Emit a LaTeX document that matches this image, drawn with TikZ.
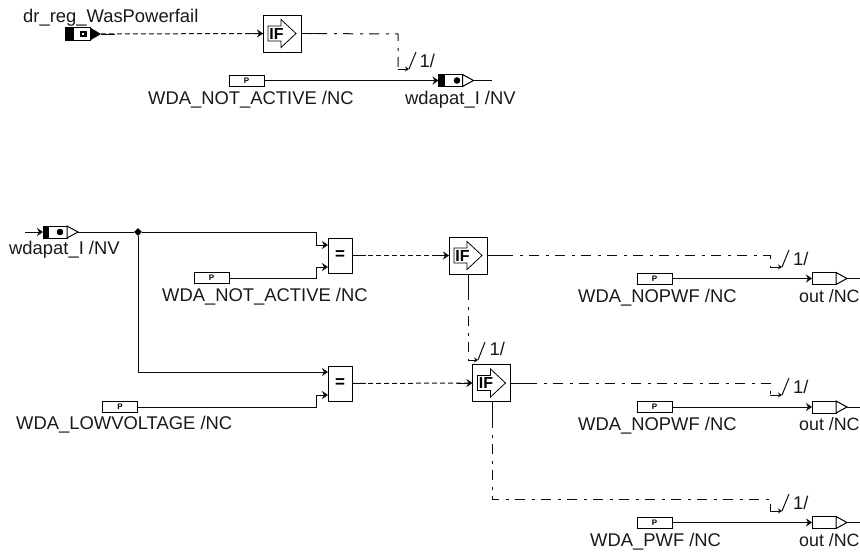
\documentclass[tikz,border=0pt]{standalone}
\usepackage{fontspec}
\setmainfont{Liberation Sans}
\usetikzlibrary{arrows.meta,shapes.geometric}
\definecolor{wire}{gray}{0.05}
\tikzset{
  wirebase/.style={draw=wire,line width=1pt},
  solidwire/.style={wirebase},
  solidarrow/.style={wirebase,-{Stealth[length=6pt,width=8pt]}},
  dotwire/.style={wirebase,dash pattern=on 5pt off 3pt},
  dashdotwire/.style={wirebase,dash pattern=on 10pt off 7pt on 3pt off 6pt,dash phase=10pt},
  elbowarrow/.style={wirebase,-{Stealth[length=4pt,width=5pt]}},
  slashline/.style={wirebase},
  boxnode/.style={draw=black,line width=1pt,fill=white,inner sep=0pt,outer sep=0pt,rectangle},
  constbox/.style={boxnode,minimum width=35pt,minimum height=11pt,
     font=\fontsize{8}{8}\selectfont\bfseries},
  eqbox/.style={boxnode,minimum width=24pt,minimum height=35pt,font=\fontsize{17}{17}\selectfont\bfseries},
  ifbox/.style={boxnode,minimum width=38pt,minimum height=37pt},
  sigbody/.style={boxnode,minimum width=24pt,minimum height=12pt},
  lbl/.style={anchor=base west,inner sep=0pt,font=\fontsize{18.4}{20}\selectfont,text=black!90},
  outlbl/.style={lbl,font=\fontsize{17.8}{20}\selectfont},
  junction/.style={diamond,fill=black,inner sep=0pt,minimum size=8pt},
}
% IF block: box centred at (#2,#3)
\newcommand{\ifblk}[3]{%
  \node[ifbox] (#1) at (#2,#3) {};
  \draw[line width=0.8pt,fill=white] (#2-14,#3-7.5) -- (#2-1,#3-7.5) -- (#2-1,#3-14) -- (#2+14,#3) -- (#2-1,#3+14) -- (#2-1,#3+7.5) -- (#2-14,#3+7.5) -- cycle;
  \node[inner sep=0pt,font=\fontsize{16}{16}\selectfont\bfseries] at (#2-5.5,#3) {IF};
}
% signal block: body centred at (#2,#3), white triangle tip
\newcommand{\sigblk}[4]{%
  \node[sigbody] (#1) at (#2,#3) {};
  \coordinate (#1-t) at (#2+23,#3);
  \draw[line width=1pt,fill=white] (#2+12,#3-6) -- (#1-t) -- (#2+12,#3+6) -- cycle;
  #4
}
% dotted connector with solid ends and an arrowhead
\newcommand{\dotcon}[2]{%
  \draw[dotwire] (#1) -- (#2);
  \draw[solidwire] (#1) -- ++(14,0);
  \draw[solidarrow] ([xshift=-16pt]#2) -- (#2);
}
\begin{document}
\begin{tikzpicture}[x=1pt,y=-1pt]
\useasboundingbox (0,0) rectangle (860,554);
% ---------- top group
\node[lbl] (l1) at (23,22.5) {dr\_reg\_WasPowerfail};
\node[boxnode,minimum width=25pt,minimum height=13pt] (drin) at (77.5,34) {};
\fill[black] (65,27.5) rectangle (74,40.5);
\fill[black] (90,27.5) -- (101,34) -- (90,40.5) -- cycle;
\fill[black] (80,31) rectangle (87,37);
\fill[white] (81.5,33.2) rectangle (84,34.8);
\coordinate (drint) at (101,34);
\ifblk{if0}{282}{33.5}
\dotcon{drint}{if0.west}
\coordinate (e0a) at (398,34);
\coordinate (e0b) at (398,69);
\coordinate (e0c) at (409,69);
\coordinate (e0d) at (416,52);
\draw[dashdotwire] (if0.east) -- (e0a) -- (e0b);
\draw[solidwire] (if0.east) -- ++(26,0);
\draw[elbowarrow] (e0b) -- (e0c);
\draw[slashline] (e0c) -- (e0d);
\node[lbl] (n0) at (419.5,67) {1/};
\node[constbox] (c0) at (246.5,80.5) {P};
\node[lbl] (l2) at (148,104) {WDA\_NOT\_ACTIVE /NC};
\sigblk{s0}{450.5}{80.5}{\fill[black] (438.5,74.5) rectangle (444.5,86.5);\fill[black] (457,80.5) circle (3.3pt);}
\coordinate (s0e) at (492,80.5);
\draw[solidarrow] (c0.east) -- (s0.west);
\draw[solidwire] (s0-t) -- (s0e);
\node[lbl] (l3) at (405,104) {wdapat\_I /NV};
% ---------- input signal
\sigblk{s1}{55}{232}{\fill[black] (43,226) rectangle (48.5,238);\fill[black] (60,232) circle (3.3pt);}
\coordinate (s1a) at (25,232);
\draw[solidarrow] (s1a) -- (s1.west);
\node[lbl] (l4) at (9,254) {wdapat\_I /NV};
\node[junction] (j) at (138,232) {};
\draw[solidwire] (s1-t) -- (j);
% ---------- first compare
\node[eqbox] (eq1) at (340,255.5) {=};
\coordinate (a1) at (316,232);
\coordinate (a2) at (316,245);
\coordinate (in1) at (328,245);
\draw[solidwire] (j) -- (a1) -- (a2);
\draw[solidarrow] (a2) -- (in1);
\node[constbox] (c1) at (211.5,278) {P};
\node[lbl] (l5) at (162,301) {WDA\_NOT\_ACTIVE /NC};
\coordinate (b1) at (316,278);
\coordinate (b2) at (316,267);
\coordinate (in2) at (328,267);
\draw[solidwire] (c1.east) -- (b1) -- (b2);
\draw[solidarrow] (b2) -- (in2);
\ifblk{if1}{468}{255.5}
\dotcon{eq1.east}{if1.west}
% ---------- second compare
\node[eqbox] (eq2) at (340,383.5) {=};
\coordinate (a3) at (138,372);
\coordinate (in3) at (328,372);
\draw[solidwire] (j) -- (a3);
\draw[solidarrow] (a3) -- (in3);
\node[constbox] (c2) at (120,407) {P};
\node[lbl] (l6) at (16,429) {WDA\_LOWVOLTAGE /NC};
\coordinate (b3) at (316,407);
\coordinate (b4) at (316,395);
\coordinate (in4) at (328,395);
\draw[solidwire] (c2.east) -- (b3) -- (b4);
\draw[solidarrow] (b4) -- (in4);
\ifblk{if2}{491.5}{383}
\dotcon{eq2.east}{if2.west}
% enable from IF1 to IF2
\coordinate (f1) at (468,360);
\coordinate (f2) at (478,360);
\coordinate (f3) at (485,342);
\draw[dashdotwire] (if1.south) -- (f1);
\draw[solidwire] (if1.south) -- ++(0,26);
\draw[elbowarrow] (f1) -- (f2);
\draw[slashline] (f2) -- (f3);
\node[lbl] (n4) at (489.5,355) {1/};
% ---------- output row 1
\coordinate (g1) at (770,255.5);
\coordinate (g2) at (770,267);
\coordinate (g3) at (782,267);
\coordinate (g4) at (789,250);
\draw[dashdotwire] (if1.east) -- (g1) -- (g2);
\draw[solidwire] (if1.east) -- ++(26,0);
\draw[elbowarrow] (g2) -- (g3);
\draw[slashline] (g3) -- (g4);
\node[lbl] (n1) at (793,265) {1/};
\node[constbox] (c3) at (654.5,278.5) {P};
\sigblk{o1}{824}{278.5}{}
\coordinate (o1e) at (860,278.5);
\draw[solidarrow] (c3.east) -- (o1.west);
\draw[solidwire] (o1-t) -- (o1e);
\node[lbl] (l7) at (578,302) {WDA\_NOPWF /NC};
\node[outlbl] (l8) at (799,302) {out /NC};
% ---------- output row 2
\coordinate (h1) at (770,383);
\coordinate (h2) at (770,395);
\coordinate (h3) at (782,395);
\coordinate (h4) at (789,378);
\draw[dashdotwire] (if2.east) -- (h1) -- (h2);
\draw[solidwire] (if2.east) -- ++(26,0);
\draw[elbowarrow] (h2) -- (h3);
\draw[slashline] (h3) -- (h4);
\node[lbl] (n2) at (793,393) {1/};
\node[constbox] (c4) at (654.5,407) {P};
\sigblk{o2}{824}{407}{}
\coordinate (o2e) at (860,407);
\draw[solidarrow] (c4.east) -- (o2.west);
\draw[solidwire] (o2-t) -- (o2e);
\node[lbl] (l9) at (578,430) {WDA\_NOPWF /NC};
\node[outlbl] (l10) at (799,430) {out /NC};
% ---------- output row 3
\coordinate (k0) at (492,499);
\coordinate (k1) at (770,499);
\coordinate (k2) at (770,511);
\coordinate (k3) at (782,511);
\coordinate (k4) at (789,494);
\draw[dashdotwire] (if2.south -| k0) -- (k0) -- (k1) -- (k2);
\draw[solidwire] (if2.south -| k0) -- ++(0,26);
\draw[elbowarrow] (k2) -- (k3);
\draw[slashline] (k3) -- (k4);
\node[lbl] (n3) at (793,509) {1/};
\node[constbox] (c5) at (654.5,522.5) {P};
\sigblk{o3}{824}{522.5}{}
\coordinate (o3e) at (860,522.5);
\draw[solidarrow] (c5.east) -- (o3.west);
\draw[solidwire] (o3-t) -- (o3e);
\node[lbl] (l11) at (590,546) {WDA\_PWF /NC};
\node[outlbl] (l12) at (799,546) {out /NC};
\end{tikzpicture}
\end{document}
